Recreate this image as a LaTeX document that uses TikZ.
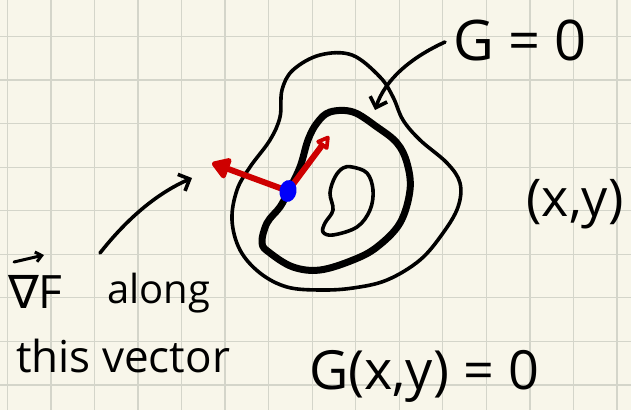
\documentclass[tikz,border=0pt]{standalone}
\usepackage{fontspec}
\setmainfont{Open Sans}
\newfontfamily\dejavu{DejaVu Sans}
\usetikzlibrary{arrows.meta,shapes.geometric}
\definecolor{paper}{RGB}{248,246,234}
\definecolor{gridc}{RGB}{212,213,202}
\definecolor{pred}{RGB}{206,0,0}
\definecolor{pblue}{RGB}{0,0,250}
\tikzset{
  ink/.style={line width=3.6pt, line cap=round, line join=round, black},
  thickink/.style={line width=7pt, line cap=round, line join=round, black},
  redvec/.style={line width=6pt, line cap=round, line join=round, pred},
  pointer/.style={ink, -{Straight Barb[length=9pt,width=18pt,line width=3.6pt]}},
  hand/.style={inner sep=0pt, font=\fontsize{#1}{#1}\selectfont},
}
\begin{document}
\begin{tikzpicture}[x=1pt,y=-1pt]
\useasboundingbox (0,0) rectangle (631,410);
\fill[paper] (0,0) rectangle (631,410);
% grid
\foreach \i in {0,...,14} \draw[gridc, line width=1.3pt] ({7.3+43.55*\i},0) -- ({7.3+43.55*\i},410);
\foreach \j in {0,...,8} \draw[gridc, line width=1.3pt] (0,{36.5+43.55*\j}) -- (631,{36.5+43.55*\j});

% outer level curve
\draw[ink] plot[smooth cycle, tension=0.6] coordinates {(320,55) (352,55) (380,77) (393,97) (403,120) (420,140) (447,163) (460,183) (458,207) (443,233) (420,260) (387,280) (353,288) (320,290) (287,287) (260,273) (240,250) (232,220) (237,190) (250,167) (270,140) (280,117) (282,90) (293,70)};
% middle thick curve G=0
\draw[thickink] plot[smooth cycle, tension=0.6] coordinates {(288,192) (280,207) (267,223) (262,243) (270,253) (293,267) (320,270) (353,260) (377,247) (400,223) (410,190) (407,163) (397,143) (377,127) (353,112) (330,112) (317,123) (308,140) (300,167)};
% inner bean
\draw[ink] plot[smooth cycle, tension=0.6] coordinates {(352,167) (367,173) (373,190) (370,210) (357,227) (333,235) (323,232) (325,223) (333,210) (330,193) (335,177) (343,168)};

% point and vectors
\coordinate (P) at (288,191);
\coordinate (gradtip) at (212,163);
\coordinate (tantip) at (329,136);
\draw[redvec, -{Triangle[length=20pt,width=24pt,round]}] (P) -- (gradtip);
\draw[redvec, -{Triangle[open,length=15pt,width=16pt,round,line width=4.5pt]}] (P) -- (tantip);
\node[fill=pblue, ellipse, minimum width=17pt, minimum height=22pt, inner sep=0pt, rotate=-10] (dot) at (P) {};

% labels
\node[hand=56, anchor=base] (gl) at (520,60) {G = 0};
\node[hand=54, anchor=base] (gxy) at (424,389) {G(x,y) = 0};
\node[hand=52, anchor=center] (xy) at (575,204) {(x,y)};
\node[hand=46, anchor=base west] (nab) at (8,308) {{\dejavu ∇}F};
\node[hand=40, anchor=base west] (al) at (107,303) {along};
\node[hand=44, anchor=base west] (tv) at (16,372) {this vector};
% vector accent over the nabla
\coordinate (va) at (14,262);
\coordinate (vb) at (44,255);
\draw[line width=3pt, line cap=round, -{Straight Barb[length=6pt,width=10pt,line width=3pt]}] (va) -- (vb);

% pointers
\coordinate (gs) at (445,42);
\coordinate (ge) at (375,110);
\draw[pointer] (gs) .. controls (410,58) and (385,80) .. (ge);
\coordinate (ts) at (100,253);
\coordinate (te) at (192,178);
\draw[pointer] (ts) .. controls (130,215) and (160,192) .. (te);
\end{tikzpicture}
\end{document}
